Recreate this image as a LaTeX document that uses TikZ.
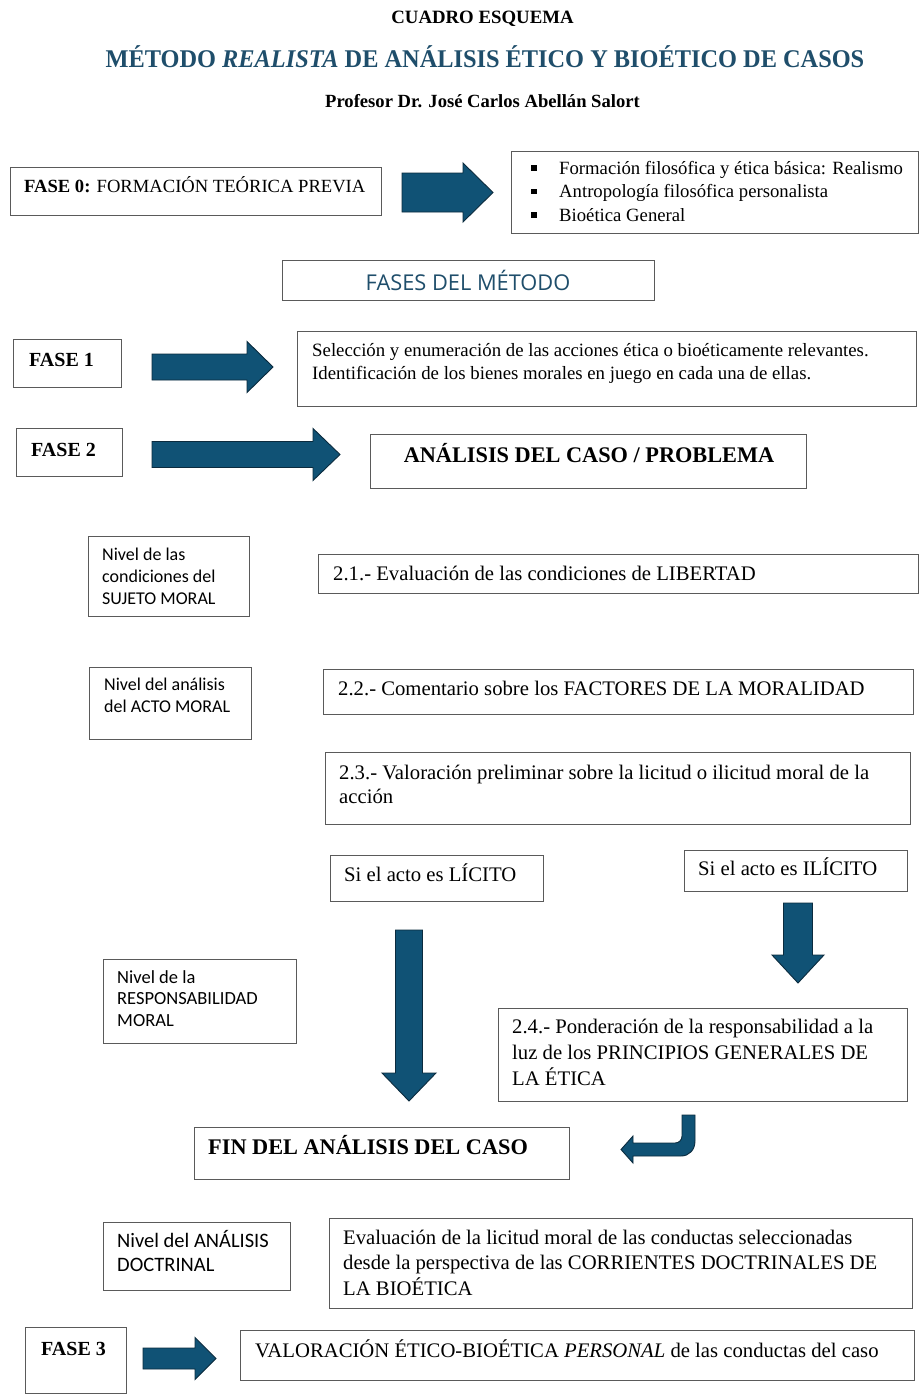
\documentclass[tikz,border=0pt]{standalone}
\usepackage{fontspec}
\setmainfont{Liberation Serif}
\newfontfamily\sansf{Carlito}
\newfontfamily\osans{Open Sans}
\usetikzlibrary{fit}
\definecolor{arrowfill}{HTML}{105275}
\definecolor{arrowline}{HTML}{0B2B3E}
\definecolor{titleblue}{HTML}{1F4E6B}
\definecolor{boxgray}{HTML}{5A5A5A}
\tikzset{
  box/.style={draw=boxgray, line width=0.9pt, inner sep=0pt, outer sep=0pt},
  txt/.style={inner sep=0pt, anchor=base west, align=left, font=\fontsize{18.7}{23.5}\selectfont},
  ltxt/.style={inner sep=0pt, anchor=base west, align=left, font=\fontsize{20.7}{25}\selectfont},
  stxt/.style={inner sep=0pt, anchor=base west, align=left, font=\sansf\fontsize{18}{22}\selectfont},
  ftxt/.style={inner sep=0pt, anchor=base west, font=\bfseries\fontsize{20}{24}\selectfont},
  htxt/.style={inner sep=0pt, anchor=base west, font=\bfseries\fontsize{22.3}{26}\selectfont},
  blockarrow/.style={fill=arrowfill, draw=arrowline, line width=0.9pt, line join=miter},
}
\newcommand\rarrow[6]{%
  \filldraw[blockarrow] (#1,{#4-#5}) -- (#2,{#4-#5}) -- (#2,{#4-#6}) -- (#3,#4)
    -- (#2,{#4+#6}) -- (#2,{#4+#5}) -- (#1,{#4+#5}) -- cycle;}
\newcommand\darrow[6]{%
  \filldraw[blockarrow] ({#1-#5},#2) -- ({#1+#5},#2) -- ({#1+#5},#3) -- ({#1+#6},#3)
    -- (#1,#4) -- ({#1-#6},#3) -- ({#1-#5},#3) -- cycle;}
\newcommand\bul{\makebox[28pt][l]{\raisebox{3.5pt}{\rule{5.5pt}{5.5pt}}}}
\begin{document}
\begin{tikzpicture}[x=1pt,y=-1pt]
\useasboundingbox[fill=white] (0,0) rectangle (923,1395);

% titles
\node[inner sep=0pt, anchor=base, font=\bfseries\fontsize{18.8}{22}\selectfont] (tA) at (482.5,23) {CUADRO ESQUEMA};
\node[inner sep=0pt, anchor=base, text=titleblue, font=\bfseries\fontsize{25.5}{30}\selectfont] (tB) at (485,67) {\scalebox{0.955}[1]{MÉTODO \textit{REALISTA} DE ANÁLISIS ÉTICO Y BIOÉTICO DE CASOS}};
\node[inner sep=0pt, anchor=base, font=\bfseries\fontsize{18.6}{22}\selectfont] (tC) at (482.5,107) {Profesor Dr. José Carlos Abellán Salort};

% boxes
\node[box, fit={(10,167) (381,215)}] (b0) {};
\node[box, fit={(511,151) (918,233)}] (bb) {};
\node[box, fit={(282,260) (654,300)}] (bf) {};
\node[box, fit={(13,339) (121,387)}] (b1) {};
\node[box, fit={(297,331) (916,406)}] (b1t) {};
\node[box, fit={(16,428) (122,476)}] (b2) {};
\node[box, fit={(370,434) (806,488)}] (b2t) {};
\node[box, fit={(88,536) (249,616)}] (n1) {};
\node[box, fit={(318,554) (918,593)}] (b21) {};
\node[box, fit={(89,667) (251,739)}] (n2) {};
\node[box, fit={(323,669) (913,714)}] (b22) {};
\node[box, fit={(325,752) (910,824)}] (b23) {};
\node[box, fit={(330,855) (543,901)}] (bl) {};
\node[box, fit={(684,850) (907,891)}] (bi) {};
\node[box, fit={(103,959) (296,1043)}] (n3) {};
\node[box, fit={(498,1008) (907,1101)}] (b24) {};
\node[box, fit={(194,1127) (569,1179)}] (bfin) {};
\node[box, fit={(103,1222) (290,1290)}] (n4) {};
\node[box, fit={(329,1218) (912,1308)}] (bev) {};
\node[box, fit={(25,1327) (126,1393)}] (b3) {};
\node[box, fit={(240,1330) (914,1380)}] (bval) {};

% texts (multi-line nodes: base = last line's baseline)
\node[txt, font=\fontsize{18.6}{23}\selectfont] (t0) at (24,192) {\textbf{FASE 0:} FORMACIÓN TEÓRICA PREVIA};
\node[txt] (tbul) at (531,221) {\bul Formación filosófica y ética básica: Realismo\\ \bul Antropología filosófica personalista\\ \bul Bioética General};
\node[inner sep=0pt, text=titleblue, font=\osans\fontsize{21.8}{25}\selectfont] (tf) at (468,280.5) {FASES DEL MÉTODO};
\node[ftxt] (t1) at (29,366) {FASE 1};
\node[txt, font=\fontsize{18.8}{23}\selectfont] (t1t) at (312,379) {Selección y enumeración de las acciones ética o bioéticamente relevantes.\\Identificación de los bienes morales en juego en cada una de ellas.};
\node[ftxt] (t2) at (31,456) {FASE 2};
\node[htxt, anchor=base] (t2t) at (589,462.5) {ANÁLISIS DEL CASO / PROBLEMA};
\node[stxt] (tn1) at (102,604) {Nivel de las\\condiciones del\\SUJETO MORAL};
\node[ltxt] (t21) at (333,580.5) {2.1.- Evaluación de las condiciones de LIBERTAD};
\node[stxt] (tn2) at (104,712) {Nivel del análisis\\del ACTO MORAL};
\node[ltxt] (t22) at (338,695.5) {2.2.- Comentario sobre los FACTORES DE LA MORALIDAD};
\node[ltxt, font=\fontsize{20.7}{24}\selectfont] (t23) at (339,803) {2.3.- Valoración preliminar sobre la licitud o ilicitud moral de la\\acción};
\node[ltxt] (tl) at (344,881.5) {Si el acto es LÍCITO};
\node[ltxt] (ti) at (698,875.5) {Si el acto es ILÍCITO};
\node[stxt, font=\sansf\fontsize{18.5}{21.5}\selectfont] (tn3) at (117,1026) {Nivel de la\\RESPONSABILIDAD\\MORAL};
\node[ltxt, font=\fontsize{20.7}{26}\selectfont] (t24) at (512,1085) {2.4.- Ponderación de la responsabilidad a la\\luz de los PRINCIPIOS GENERALES DE\\LA ÉTICA};
\node[htxt] (tfin) at (208,1154) {FIN DEL ANÁLISIS DEL CASO};
\node[stxt, font=\sansf\fontsize{20.5}{24}\selectfont] (tn4) at (117,1271) {Nivel del ANÁLISIS\\DOCTRINAL};
\node[ltxt, font=\fontsize{20.7}{25.5}\selectfont] (tev) at (343,1295) {Evaluación de la licitud moral de las conductas seleccionadas\\desde la perspectiva de las CORRIENTES DOCTRINALES DE\\LA BIOÉTICA};
\node[ftxt] (t3) at (41,1355) {FASE 3};
\node[ltxt] (tval) at (255,1357.5) {VALORACIÓN ÉTICO-BIOÉTICA \textit{PERSONAL} de las conductas del caso};

% block arrows
\rarrow{402}{463}{493}{192.5}{19.5}{29.5}
\rarrow{152}{247}{273}{367}{13}{25.5}
\rarrow{152}{313}{340}{454.5}{13}{26}
\rarrow{143}{195}{216}{1358.5}{10.5}{21}
\darrow{798}{903}{955}{983}{14.5}{26}
\darrow{409}{930}{1073}{1101}{13.5}{27}
\filldraw[blockarrow] (682,1115) -- (695,1115) -- (695,1141) .. controls (695,1150) and (689,1156) .. (681,1156)
  -- (633,1156) -- (633,1163) -- (621,1149.5) -- (633,1136) -- (633,1143) -- (675,1143)
  .. controls (679,1143) and (682,1140) .. (682,1136) -- cycle;
\end{tikzpicture}
\end{document}
